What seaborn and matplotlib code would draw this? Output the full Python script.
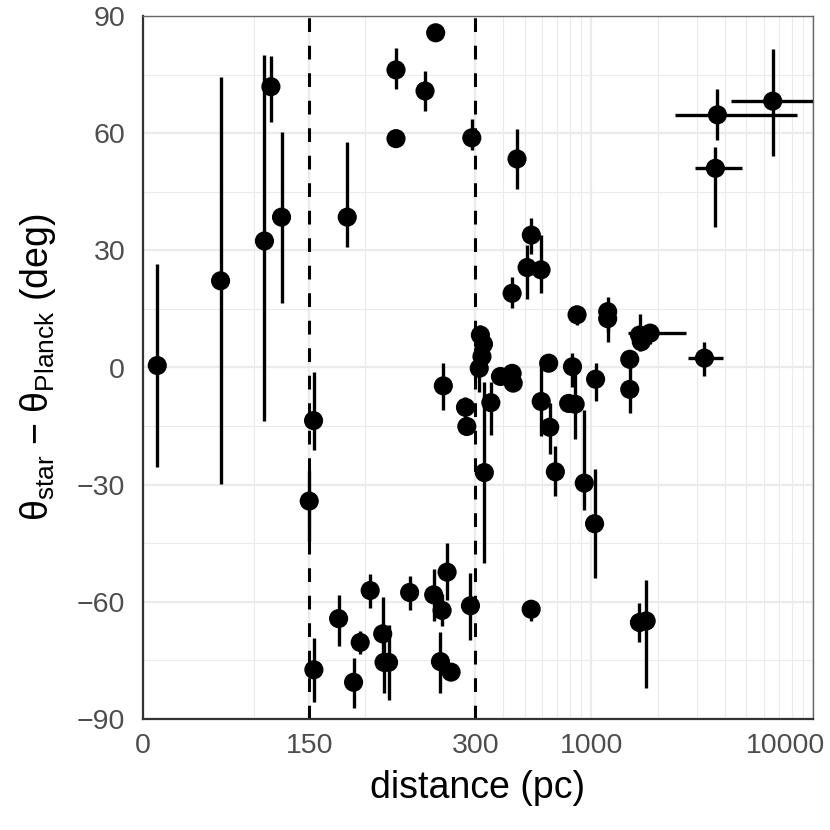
import numpy as np
import pandas as pd
import matplotlib
matplotlib.use("Agg")
import matplotlib.pyplot as plt
import matplotlib.transforms as mtransforms
import seaborn as sns

# distance (pc), angle offset (deg) and their error ranges
dist = [12.9, 70, 109.6, 115.4, 125, 184.3, 228.3, 228.3, 254.5, 264.1, 296.7,
        462, 536, 513, 593, 439, 862, 1185, 1185, 1650, 1842, 1680, 1490,
        315.8, 326, 321, 312, 389, 439, 444, 642, 822, 1045,
        153.9, 150, 154.2, 176.5, 190, 196, 205, 216.3, 217.5, 221.6, 240.6,
        262.3, 274.4, 269.9, 268.4, 278, 295.5, 271, 291, 292.2, 329,
        535, 1648, 1767, 1034, 929, 688, 649, 594, 790, 845, 352, 1490,
        3705, 6580, 3628, 3237]
theta = [0.5, 22.2, 32.4, 71.9, 38.5, 38.5, 58.6, 76.2, 70.8, 85.7, 58.8,
         53.4, 33.9, 25.6, 25.0, 19.0, 13.5, 14.3, 12.5, 8.3, 8.8, 6.6, 2.1,
         8.3, 6.0, 2.8, -0.2, -2.3, -1.5, -4.0, 1.1, 0.2, -3.0,
         -13.6, -34.2, -77.4, -64.3, -80.6, -70.4, -57.1, -68.2, -75.5, -75.5, -57.6,
         -58.2, -52.4, -62.2, -75.3, -78.0, -61.0, -4.7, -10.2, -15.1, -26.9,
         -61.9, -65.3, -64.9, -40.0, -29.6, -26.7, -15.3, -8.7, -9.2, -9.4, -9.0, -5.6,
         64.7, 68.2, 51.0, 2.4]
theta_lo = [-25.5, -29.8, -13.7, 62.9, 16.4, 30.8, 57.0, 71.4, 65.7, 84.0, 55.7,
            45.6, 29.0, 17.5, 19.2, 15.2, 10.9, 9.0, 6.6, 4.1, 6.0, 5.0, -0.5,
            5.8, 3.5, 0.0, -6.2, -4.0, -3.0, -6.0, -1.0, -4.9, -8.5,
            -21.1, -44.5, -85.7, -71.2, -87.2, -73.3, -61.6, -77.5, -83.4, -85.1, -62.1,
            -65.0, -59.5, -66.3, -83.4, -80.0, -69.7, -10.9, -13.0, -17.0, -50.0,
            -65.0, -70.2, -82.1, -53.9, -36.5, -33.0, -22.2, -17.5, -11.0, -18.3, -17.3, -11.7,
            58.3, 54.2, 35.9, -2.2]
theta_hi = [26.5, 74.5, 80.0, 79.8, 60.2, 57.8, 60.0, 81.9, 75.9, 87.0, 63.5,
            61.1, 38.2, 31.4, 33.9, 23.1, 15.5, 18.0, 16.0, 13.7, 11.0, 8.0, 4.5,
            10.8, 8.5, 5.6, 5.8, -0.6, 0.0, -2.0, 3.2, 3.7, 1.1,
            -1.1, -26.4, -69.3, -58.2, -74.3, -67.4, -52.9, -58.8, -67.5, -66.0, -53.4,
            -51.7, -45.0, -58.0, -67.6, -76.0, -52.7, 1.1, -7.5, -13.0, -3.6,
            -60.0, -60.4, -54.4, -26.0, -10.9, -20.1, -9.2, 2.0, -7.5, 2.0, -3.6, 0.5,
            71.2, 81.6, 56.5, 6.6]

# stars with a distance uncertainty
xerr_dist = [1842, 1648, 3705, 6580, 3628, 3237]
xerr_theta = [8.8, -65.3, 64.7, 68.2, 51.0, 2.4]
xerr_lo = [1470, 1540, 2386, 4269, 2940, 2738]
xerr_hi = [2670, 1700, 8490, 12000, 4780, 3940]

x_major = [0, 150, 300, 1000, 10000]
x_major_labels = ["0", "150", "300", "1000", "10000"]
x_minor = [100, 200, 400, 500, 600, 700, 800, 900,
           2000, 3000, 4000, 5000, 6000, 7000, 8000, 9000]
y_major = [-90, -60, -30, 0, 30, 60, 90]
y_minor = [-75, -45, -15, 15, 45, 75]

df = pd.DataFrame({"dist": dist, "theta": theta, "lo": theta_lo, "hi": theta_hi})
dfx = pd.DataFrame({"theta": xerr_theta, "lo": xerr_lo, "hi": xerr_hi})


# linear up to 300 pc, logarithmic above
def fwd(x):
    x = np.asarray(x, dtype=float)
    return np.where(x <= 300, x, 300 + 200 * np.log10(np.maximum(x, 300) / 300))


def inv(y):
    y = np.asarray(y, dtype=float)
    return np.where(y <= 300, y, 300 * 10 ** ((np.maximum(y, 300) - 300) / 200))


sns.set_theme(style="white")
plt.rcParams["font.family"] = ["Liberation Sans", "DejaVu Sans"]
plt.rcParams["mathtext.fontset"] = "custom"
plt.rcParams["mathtext.rm"] = "Liberation Sans"
plt.rcParams["mathtext.default"] = "regular"

fig = plt.figure(figsize=(8.3, 8.3), dpi=100)
ax = fig.add_axes([143 / 830, 111 / 830, 670 / 830, 703 / 830])
ax.set_xscale("function", functions=(fwd, inv))

# error bars
ax.vlines(df["dist"], df["lo"], df["hi"], color="black", lw=2.4, zorder=2)
ax.hlines(dfx["theta"], dfx["lo"], dfx["hi"], color="black", lw=2.4, zorder=2)

# reference distances
for d in (150, 300):
    ax.axvline(d, color="black", lw=2.2, ls=(0, (4.5, 4.5)), zorder=2.5)

sns.scatterplot(data=df, x="dist", y="theta", s=190, color="black",
                edgecolor="none", linewidth=0, ax=ax, zorder=3, legend=False)

ax.set_xlim(0, 10000)
ax.set_ylim(-90, 90)
ax.set_xticks(x_major, x_major_labels)
ax.set_xticks(x_minor, minor=True)
ax.set_yticks(y_major)
ax.set_yticks(y_minor, minor=True)

ax.grid(which="major", color="#EBEBEB", lw=1.6, zorder=0)
ax.grid(which="minor", color="#EBEBEB", lw=0.8, zorder=0)
ax.set_axisbelow(True)

for side in ("left", "bottom"):
    ax.spines[side].set_color("#333333")
    ax.spines[side].set_linewidth(1.6)
for side in ("top", "right"):
    ax.spines[side].set_color("#666666")
    ax.spines[side].set_linewidth(1.0)

ax.tick_params(which="major", direction="out", length=5.8, width=1.6,
               color="#333333", labelsize=20.5, labelcolor="#4D4D4D")
ax.tick_params(axis="x", which="major", pad=4.5)
ax.tick_params(axis="y", which="major", pad=7)
ax.tick_params(which="minor", length=0)

# last x label sits left of its tick so it stays inside the figure
last = ax.get_xticklabels()[-1]
last.set_horizontalalignment("right")
last.set_transform(last.get_transform()
                   + mtransforms.ScaledTranslation(12 / 100, 0, fig.dpi_scale_trans))

ax.set_xlabel("distance (pc)", fontsize=27, color="black", labelpad=8)
ax.set_ylabel(r"$θ_{star}$ − $θ_{Planck}$ (deg)", fontsize=27, color="black")
ax.yaxis.set_label_coords(-0.127, 0.5)

fig.savefig("out.png", dpi=100)
